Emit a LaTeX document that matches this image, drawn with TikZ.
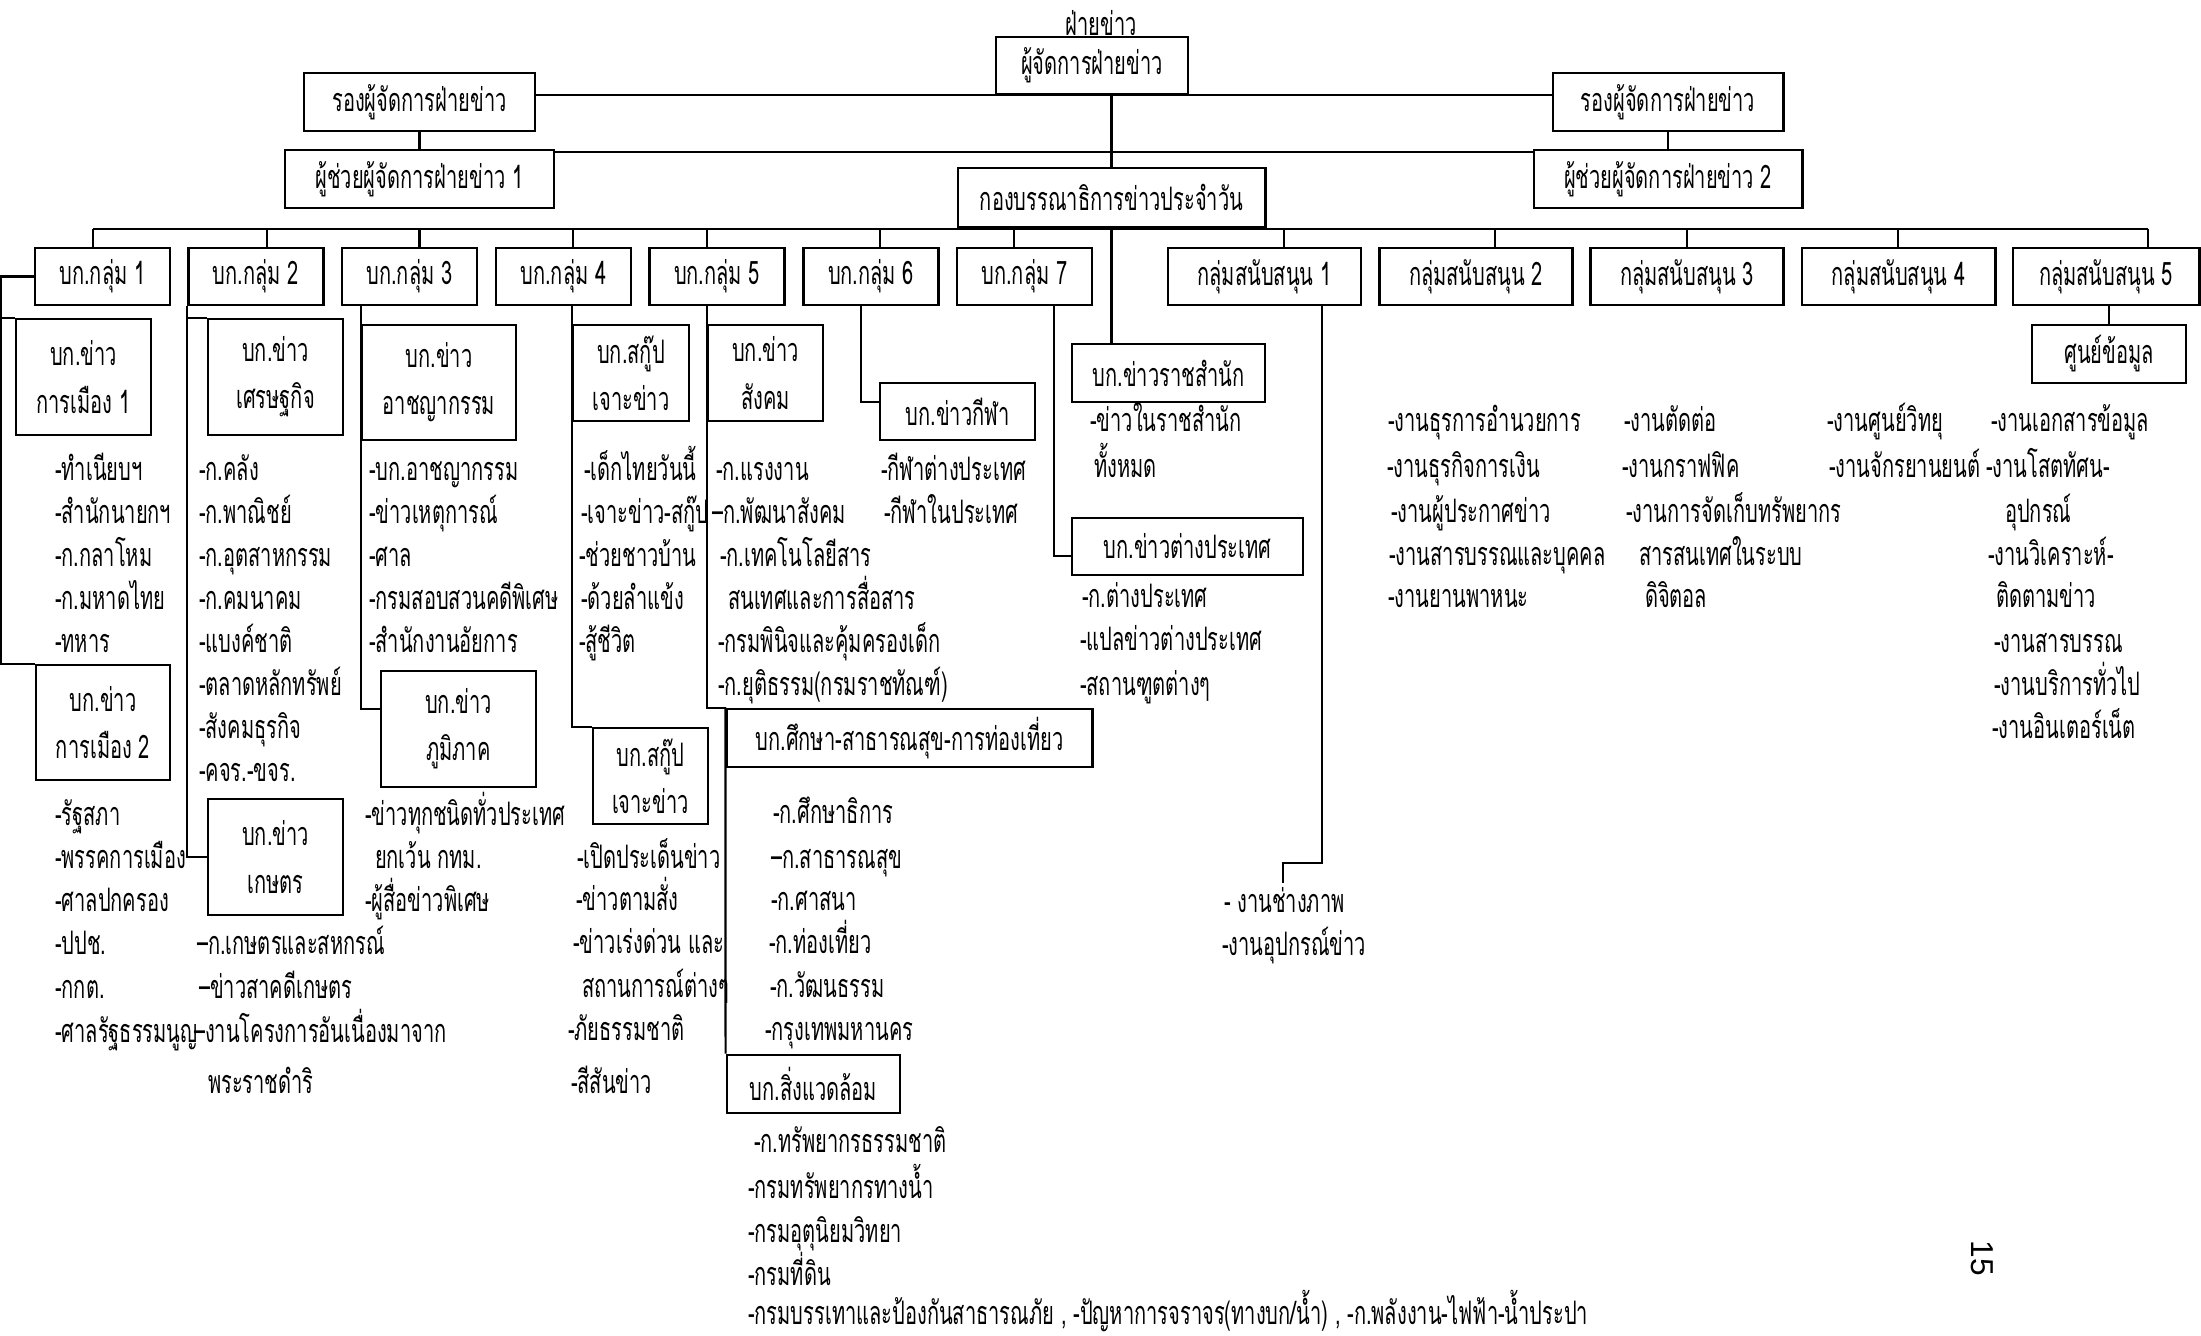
\documentclass[tikz,border=0pt]{standalone}
\usepackage{fontspec}
\newfontfamily\thai[Script=Thai,FakeStretch=0.62]{Loma}
\newfontfamily\pagefont{Liberation Sans}

\begin{document}
\begin{tikzpicture}[x=0.01cm, y=-0.01cm, line width=0.6pt,
  box/.style={rectangle, draw, line width=0.8pt, inner sep=0pt, align=center, font=\thai\fontsize{9.2}{13.4}\selectfont},
  item/.style={anchor=base west, inner sep=0pt, font=\thai\fontsize{9.2}{12}\selectfont}]
\useasboundingbox (0,0) rectangle (2201,1335);

% top of the chart
\node[anchor=base, inner sep=0pt, font=\thai\fontsize{9.2}{12}\selectfont] (title) at (1101,35) {ฝ่ายข่าว};
\node[box, minimum width=1.92cm, minimum height=0.57cm] (head) at (1092,65.5) {ผู้จัดการฝ่ายข่าว};
\node[box, minimum width=2.31cm, minimum height=0.58cm] (dep1) at (419.5,102) {รองผู้จัดการฝ่ายข่าว};
\node[box, minimum width=2.30cm, minimum height=0.58cm] (dep2) at (1668,102) {รองผู้จัดการฝ่ายข่าว};
\node[box, minimum width=2.69cm, minimum height=0.58cm] (asst1) at (419.5,179) {ผู้ช่วยผู้จัดการฝ่ายข่าว 1};
\node[box, minimum width=2.68cm, minimum height=0.58cm] (asst2) at (1668,179) {ผู้ช่วยผู้จัดการฝ่ายข่าว 2};
\node[box, minimum width=3.07cm, minimum height=0.59cm] (desk) at (1111.5,197.5) {กองบรรณาธิการข่าวประจำวัน};
\draw (dep1.east |- head.south) -- (dep2.west |- head.south);
\draw (asst1.east |- 0,152) -- (asst2.west |- 0,152);
\draw (dep1) -- (asst1);
\draw (dep2) -- (asst2);
\draw (desk.north |- head.south) -- (desk.north);

% groups
\foreach \n/\x/\t in {g1/102.5/บก.กลุ่ม 1, g2/256/บก.กลุ่ม 2, g3/409.5/บก.กลุ่ม 3, g4/563.5/บก.กลุ่ม 4, g5/717/บก.กลุ่ม 5, g6/871/บก.กลุ่ม 6, g7/1024.5/บก.กลุ่ม 7}
  \node[box, minimum width=1.35cm, minimum height=0.57cm] (\n) at (\x,276.5) {\t};
\foreach \n/\x/\t in {s1/1264.5/กลุ่มสนับสนุน 1, s2/1476/กลุ่มสนับสนุน 2, s3/1687/กลุ่มสนับสนุน 3, s4/1898.5/กลุ่มสนับสนุน 4}
  \node[box, minimum width=1.93cm, minimum height=0.57cm] (\n) at (\x,276.5) {\t};
\node[box, minimum width=1.86cm, minimum height=0.57cm] (s5) at (2106,276.5) {กลุ่มสนับสนุน 5};
\coordinate (busL) at (93,229);
\coordinate (busR) at (2148,229);
\draw (busL) -- (busR);
\foreach \n/\x in {g1/93, g2/267, g3/419.5, g4/573, g5/707, g6/880, g7/1014, s1/1284, s2/1495, s3/1687, s4/1898, s5/2148}
  \draw (\x,229) -- (\n.north -| \x,0);

% group 1
\node[box, minimum width=1.35cm, minimum height=1.16cm] (pol1) at (83.5,377) {บก.ข่าว\\การเมือง 1};
\node[box, minimum width=1.34cm, minimum height=1.15cm] (pol2) at (103,722.5) {บก.ข่าว\\การเมือง 2};
\coordinate (left) at (1,276.5);
\draw (g1.west) -- (left) |- (pol2.north west);
\draw (left |- pol1.north) -- (pol1.north west);
\foreach \y/\t [count=\i] in {480/-ทำเนียบฯ, 523/-สำนักนายกฯ, 566/-ก.กลาโหม, 609/-ก.มหาดไทย, 652/-ทหาร}
  \node[item] (pol1-\i) at (54,\y) {\t};
\foreach \y/\t [count=\i] in {825/-รัฐสภา, 868/-พรรคการเมือง, 911/-ศาลปกครอง, 954/-ปปช., 998/-กกต., 1042/-ศาลรัฐธรรมนูญ}
  \node[item] (pol2-\i) at (54,\y) {\t};

% group 2
\node[box, minimum width=1.35cm, minimum height=1.16cm] (econ) at (275.5,377) {บก.ข่าว\\เศรษฐกิจ};
\node[box, minimum width=1.35cm, minimum height=1.16cm] (agri) at (275.5,857) {บก.ข่าว\\เกษตร};
\draw (g2.south west) |- (agri.west);
\draw (g2.south west |- econ.north) -- (econ.north west);
\foreach \y/\t [count=\i] in {480/-ก.คลัง, 523/-ก.พาณิชย์, 566/-ก.อุตสาหกรรม, 609/-ก.คมนาคม, 652/-แบงค์ชาติ, 695/-ตลาดหลักทรัพย์, 738/-สังคมธุรกิจ, 781/-คจร.-ขจร.}
  \node[item] (econ-\i) at (198,\y) {\t};
\foreach \x/\y/\t [count=\i] in {196/954/–ก.เกษตรและสหกรณ์, 198/998/–ข่าวสาคดีเกษตร, 193/1042/–งานโครงการอันเนื่องมาจาก, 207/1093/พระราชดำริ}
  \node[item] (agri-\i) at (\x,\y) {\t};

% group 3
\node[box, minimum width=1.54cm, minimum height=1.15cm] (crime) at (439,382.5) {บก.ข่าว\\อาชญากรรม};
\node[box, minimum width=1.55cm, minimum height=1.16cm] (region) at (458.5,729) {บก.ข่าว\\ภูมิภาค};
\draw (crime.west |- g3.south) -- (crime.west |- 0,709) -- (region.west |- 0,709);
\foreach \y/\t [count=\i] in {480/-บก.อาชญากรรม, 523/-ข่าวเหตุการณ์, 566/-ศาล, 609/-กรมสอบสวนคดีพิเศษ, 652/-สำนักงานอัยการ}
  \node[item] (crime-\i) at (368,\y) {\t};
\foreach \x/\y/\t [count=\i] in {364/825/-ข่าวทุกชนิดทั่วประเทศ, 374/868/ยกเว้น กทม., 364/911/-ผู้สื่อข่าวพิเศษ}
  \node[item] (region-\i) at (\x,\y) {\t};

% group 4
\node[box, minimum width=1.16cm, minimum height=0.96cm] (scoop1) at (631,373) {บก.สกู๊ป\\เจาะข่าว};
\node[box, minimum width=1.15cm, minimum height=0.96cm] (scoop2) at (650.5,776) {บก.สกู๊ป\\เจาะข่าว};
\draw (scoop1.west |- g4.south) |- (scoop2.north west);
\foreach \x/\y/\t [count=\i] in {583/480/-เด็กไทยวันนี้, 580/523/-เจาะข่าว-สกู๊ป, 578/566/-ช่วยชาวบ้าน, 580/609/-ด้วยลำแข้ง, 578/652/-สู้ชีวิต}
  \node[item] (scoop1-\i) at (\x,\y) {\t};
\foreach \x/\y/\t [count=\i] in {576/868/-เปิดประเด็นข่าว, 575/910/-ข่าวตามสั่ง, 572/953/-ข่าวเร่งด่วน และ, 581/997/สถานการณ์ต่างๆ, 567/1040/-ภัยธรรมชาติ, 570/1093/-สีสันข่าว}
  \node[item] (scoop2-\i) at (\x,\y) {\t};

% group 5
\node[box, minimum width=1.15cm, minimum height=0.96cm] (social) at (765.5,373) {บก.ข่าว\\สังคม};
\node[box, minimum width=3.65cm, minimum height=0.58cm] (edu) at (909.5,738) {บก.ศึกษา-สาธารณสุข-การท่องเที่ยว};
\node[box, minimum width=1.73cm, minimum height=0.58cm] (env) at (813.5,1084) {บก.สิ่งแวดล้อม};
\draw (social.west |- g5.south) |- (edu.north west);
\draw (edu.north west) -- (env.north west);
\foreach \x/\y/\t [count=\i] in {715/480/-ก.แรงงาน, 711/523/–ก.พัฒนาสังคม, 719/566/-ก.เทคโนโลยีสาร, 727/609/สนเทศและการสื่อสาร, 717/652/-กรมพินิจและคุ้มครองเด็ก, 717/695/-ก.ยุติธรรม(กรมราชทัณฑ์)}
  \node[item] (social-\i) at (\x,\y) {\t};
\foreach \x/\y/\t [count=\i] in {772/823/-ก.ศึกษาธิการ, 770/868/–ก.สาธารณสุข, 770/910/-ก.ศาสนา, 768/953/-ก.ท่องเที่ยว, 769/997/-ก.วัฒนธรรม, 764/1040/-กรุงเทพมหานคร}
  \node[item] (edu-\i) at (\x,\y) {\t};
\foreach \x/\y/\t [count=\i] in {753/1152/-ก.ทรัพยากรธรรมชาติ, 747/1198/-กรมทรัพยากรทางน้ำ, 747/1242/-กรมอุตุนิยมวิทยา, 747/1285/-กรมที่ดิน, 747/1324/{-กรมบรรเทาและป้องกันสาธารณภัย , -ปัญหาการจราจร(ทางบก/น้ำ) , -ก.พลังงาน-ไฟฟ้า-น้ำประปา}}
  \node[item] (env-\i) at (\x,\y) {\t};

% group 6
\node[box, minimum width=1.55cm, minimum height=0.57cm] (sport) at (957.5,411.5) {บก.ข่าวกีฬา};
\draw (861,0 |- g6.south) |- (sport.west |- 0,402);
\foreach \x/\y/\t [count=\i] in {880/480/-กีฬาต่างประเทศ, 883/523/-กีฬาในประเทศ}
  \node[item] (sport-\i) at (\x,\y) {\t};

% group 7 and royal desk
\node[box, minimum width=1.93cm, minimum height=0.58cm] (royal) at (1168.5,373) {บก.ข่าวราชสำนัก};
\node[box, minimum width=2.31cm, minimum height=0.57cm] (foreign) at (1187.5,546.5) {บก.ข่าวต่างประเทศ};
\draw (desk.south) -- (desk.south |- royal.north);
\draw (1054,0 |- g7.south) |- (foreign.west |- 0,556);
\foreach \x/\y/\t [count=\i] in {1089/431/-ข่าวในราชสำนัก, 1093/477/ทั้งหมด}
  \node[item] (royal-\i) at (\x,\y) {\t};
\foreach \x/\y/\t [count=\i] in {1081/607/-ก.ต่างประเทศ, 1079/650/-แปลข่าวต่างประเทศ, 1079/695/-สถานฑูตต่างๆ}
  \node[item] (foreign-\i) at (\x,\y) {\t};

% support groups
\coordinate (s1end) at (1283,883);
\draw (1322,0 |- s1.south) |- (1283,863) -- (s1end);
\foreach \x/\y/\t [count=\i] in {1223/912/- งานช่างภาพ, 1221/955/-งานอุปกรณ์ข่าว}
  \node[item] (s1-\i) at (\x,\y) {\t};
\foreach \x/\y/\t [count=\i] in {1387/431/-งานธุรการอำนวยการ, 1386/477/-งานธุรกิจการเงิน, 1390/522/-งานผู้ประกาศข่าว, 1388/565/-งานสารบรรณและบุคคล, 1387/607/-งานยานพาหนะ}
  \node[item] (s2-\i) at (\x,\y) {\t};
\foreach \x/\y/\t [count=\i] in {1623/431/-งานตัดต่อ, 1621/477/-งานกราฟฟิค, 1625/522/-งานการจัดเก็บทรัพยากร, 1638/565/สารสนเทศในระบบ, 1644/607/ดิจิตอล}
  \node[item] (s3-\i) at (\x,\y) {\t};
\foreach \x/\y/\t [count=\i] in {1826/431/-งานศูนย์วิทยุ, 1828/477/-งานจักรยานยนต์}
  \node[item] (s4-\i) at (\x,\y) {\t};
\node[box, minimum width=1.54cm, minimum height=0.58cm] (data) at (2109,354) {ศูนย์ข้อมูล};
\draw (data.north |- s5.south) -- (data.north);
\foreach \x/\y/\t [count=\i] in {1990/431/-งานเอกสารข้อมูล, 1985/477/-งานโสตทัศน-, 2004/522/อุปกรณ์, 1987/565/-งานวิเคราะห์-, 1995/607/ติดตามข่าว, 1993/652/-งานสารบรรณ, 1993/695/-งานบริการทั่วไป, 1991/738/-งานอินเตอร์เน็ต}
  \node[item] (s5-\i) at (\x,\y) {\t};

\node[rotate=-90, inner sep=0pt, font=\pagefont\fontsize{9}{11}\selectfont] (page) at (1982,1258) {15};
\end{tikzpicture}
\end{document}
